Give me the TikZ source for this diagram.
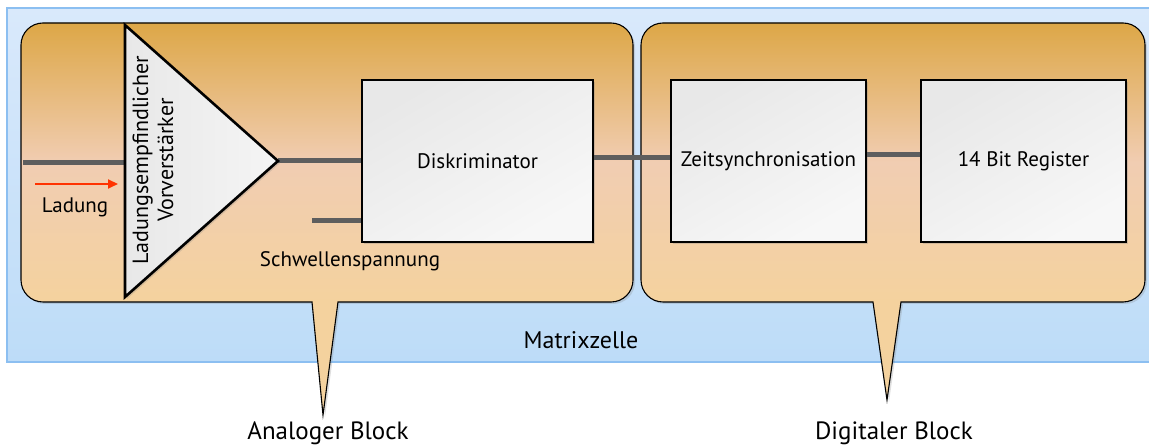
\documentclass[tikz,border=0pt]{standalone}
\usepackage{fontspec}
\setmainfont{PT Sans}
\usetikzlibrary{shadows,arrows.meta}
\definecolor{celltop}{HTML}{D9E9FB}
\definecolor{cellbot}{HTML}{BDDCF8}
\definecolor{cellborder}{HTML}{8CBFF1}
\definecolor{blocktop}{HTML}{DDA747}
\definecolor{blockmid}{HTML}{F1CDB2}
\definecolor{blockbot}{HTML}{F4D29E}
\definecolor{wire}{HTML}{5E5E5E}
\definecolor{charge}{HTML}{FF3300}
\definecolor{boxgrey}{HTML}{E8E8E8}
\tikzset{
  txt/.style={font=\fontsize{21}{25}\selectfont, inner sep=0pt},
  bigtxt/.style={font=\fontsize{24}{28}\selectfont, inner sep=0pt},
  wireline/.style={draw=wire, line width=5pt},
  unit/.style={draw=black, line width=2.6pt, inner sep=0pt,
    left color=boxgrey, right color=white!97!black, shading angle=30,
    drop shadow={opacity=0.3, shadow xshift=2pt, shadow yshift=-2pt}},
  blockfill/.style={fill=blockbot,
    drop shadow={opacity=0.25, shadow xshift=2pt, shadow yshift=-2pt}},
  blockshade/.style={top color=blocktop, bottom color=blockbot, middle color=blockmid},
  blockedge/.style={draw=black, line width=1.1pt},
}
\begin{document}
\begin{tikzpicture}[x=1pt,y=1pt]
\useasboundingbox (0,0) rectangle (1149,447);

% matrix cell background
\path[draw=cellborder, line width=1.3pt, top color=celltop, bottom color=cellbot]
  (7,85) rectangle (1155,439);
\node[bigtxt] (cell) at (581,107) {Matrixzelle};

% analog block with its callout tail
\path[blockfill] (312,145) -- (323,32) -- (338,145) -- (611,145)
  arc[start angle=270,end angle=360,radius=22] -- (633,402)
  arc[start angle=0,end angle=90,radius=22] -- (43,424)
  arc[start angle=90,end angle=180,radius=22] -- (21,167)
  arc[start angle=180,end angle=270,radius=22] -- cycle;
\path[blockshade, rounded corners=22pt] (21,145) rectangle (633,424);
\path[blockedge] (312,145) -- (323,32) -- (338,145) -- (611,145)
  arc[start angle=270,end angle=360,radius=22] -- (633,402)
  arc[start angle=0,end angle=90,radius=22] -- (43,424)
  arc[start angle=90,end angle=180,radius=22] -- (21,167)
  arc[start angle=180,end angle=270,radius=22] -- cycle;

% digital block with its callout tail
\path[blockfill] (873,145) -- (887,47) -- (901,145) -- (1123,145)
  arc[start angle=270,end angle=360,radius=22] -- (1145,402)
  arc[start angle=0,end angle=90,radius=22] -- (663,424)
  arc[start angle=90,end angle=180,radius=22] -- (641,167)
  arc[start angle=180,end angle=270,radius=22] -- cycle;
\path[blockshade, rounded corners=22pt] (641,145) rectangle (1145,424);
\path[blockedge] (873,145) -- (887,47) -- (901,145) -- (1123,145)
  arc[start angle=270,end angle=360,radius=22] -- (1145,402)
  arc[start angle=0,end angle=90,radius=22] -- (663,424)
  arc[start angle=90,end angle=180,radius=22] -- (641,167)
  arc[start angle=180,end angle=270,radius=22] -- cycle;

\node[bigtxt, font=\fontsize{25}{28}\selectfont, anchor=base] (analog) at (328,7) {Analoger Block};
\node[bigtxt, font=\fontsize{25}{28}\selectfont, anchor=base] (digital) at (894,7) {Digitaler Block};

% units
\node[unit, minimum width=231pt, minimum height=162pt] (disk) at (477.5,286) {};
\node[unit, minimum width=195pt, minimum height=162pt] (zeit) at (768.5,286) {};
\node[unit, minimum width=205pt, minimum height=162pt] (reg) at (1023.5,286) {};
\node[txt] at (disk) {Diskriminator};
\node[txt] at (zeit) {Zeitsynchronisation};
\node[txt] at (reg) {14 Bit Register};

% charge sensitive preamplifier
\coordinate (ampin) at (125,284);
\coordinate (apex) at (278,286);
\coordinate (src) at (23,284);
\coordinate (thr) at (312,226);
\draw[wireline] (src) -- (ampin);
\draw[wireline] (apex) -- (disk.west |- apex);
\draw[wireline] (thr) -- (disk.west |- thr);
\draw[wireline] ([yshift=3pt]disk.east) -- ([yshift=3pt]zeit.west);
\draw[wireline] ([yshift=6pt]zeit.east) -- ([yshift=6pt]reg.west);
\path[draw=black, line width=2.6pt, line join=miter, left color=boxgrey, right color=white!96!black,
  drop shadow={opacity=0.25, shadow xshift=2pt, shadow yshift=-2pt}]
  (125,422) -- (apex) -- (125,150) -- cycle;
\node[txt, rotate=90, align=center, font=\fontsize{22}{25}\selectfont] (amp) at (153,287)
  {Ladungsempfindlicher\\Vorverstärker};

% charge input
\coordinate (qa) at (35,263);
\coordinate (qb) at (118,263);
\draw[charge, line width=2pt, -{Triangle[length=10pt,width=9pt]}] (qa) -- (qb);
\node[txt] (ladung) at (75,240) {Ladung};
\node[txt] (schw) at (350,186) {Schwellenspannung};
\end{tikzpicture}
\end{document}
